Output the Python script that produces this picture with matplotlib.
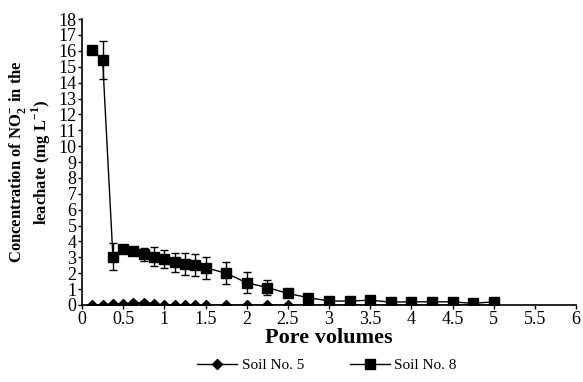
import matplotlib
matplotlib.use("Agg")
import matplotlib.pyplot as plt
from matplotlib.lines import Line2D
import numpy as np

plt.rcParams['font.family'] = ['Liberation Serif', 'DejaVu Serif']
plt.rcParams['mathtext.fontset'] = 'custom'
plt.rcParams['mathtext.rm'] = 'Liberation Serif'
plt.rcParams['mathtext.bf'] = 'Liberation Serif:bold'

pore_volumes = [0.125, 0.25, 0.375, 0.5, 0.625, 0.75, 0.875, 1.0, 1.125, 1.25, 1.375, 1.5,
                1.75, 2.0, 2.25, 2.5, 2.75, 3.0, 3.25, 3.5, 3.75, 4.0, 4.25, 4.5, 4.75, 5.0]
soil8 = [16.05, 15.45, 3.05, 3.55, 3.4, 3.2, 3.05, 2.9, 2.7, 2.6, 2.5, 2.35,
         2.0, 1.4, 1.1, 0.73, 0.46, 0.25, 0.25, 0.3, 0.18, 0.2, 0.2, 0.2, 0.1, 0.2]
soil8_err = [0.0, 1.2, 0.85, 0.1, 0.15, 0.4, 0.6, 0.57, 0.6, 0.7, 0.7, 0.7,
             0.7, 0.65, 0.5, 0.05, 0.05, 0.05, 0.05, 0.05, 0.05, 0.05, 0.05, 0.05, 0.05, 0.05]
soil5 = [0.0, 0.0, 0.08, 0.08, 0.12, 0.15, 0.08, 0.0, 0.0, 0.0, 0.0, 0.0,
         0.0, 0.0, 0.0, 0.0, 0.0, 0.0, 0.0, 0.0, 0.0, 0.0, 0.0, 0.0, 0.0, 0.0]
soil5_err = [0.0, 0.0, 0.05, 0.05, 0.1, 0.1, 0.05, 0.0, 0.0, 0.0, 0.0, 0.0,
             0.0, 0.0, 0.0, 0.0, 0.0, 0.0, 0.0, 0.0, 0.0, 0.0, 0.0, 0.0, 0.0, 0.0]
x_ticks = [0, 0.5, 1, 1.5, 2, 2.5, 3, 3.5, 4, 4.5, 5, 5.5, 6]
x_tick_labels = ['0', '0.5', '1', '1.5', '2', '2.5', '3', '3.5', '4', '4.5', '5', '5.5', '6']
y_ticks = list(range(0, 19))

fig = plt.figure(figsize=(5.83, 3.82), dpi=100)
ax = fig.add_axes([0.1407, 0.2016, 0.8473, 0.7484])

ax.errorbar(pore_volumes, soil5, yerr=soil5_err, color='black', marker='D', markersize=5,
            linewidth=1.0, capsize=3, elinewidth=1.0)
ax.errorbar(pore_volumes, soil8, yerr=soil8_err, color='black', marker='s', markersize=7,
            linewidth=1.0, capsize=3, elinewidth=1.0)

ax.set_xlim(0, 6)
ax.set_ylim(0, 18)
ax.set_xticks(x_ticks)
ax.set_xticklabels(x_tick_labels)
ax.set_yticks(y_ticks)
ax.tick_params(axis='both', labelsize=13, direction='out', length=3, width=1, pad=1)
for s in ['top', 'right']:
    ax.spines[s].set_visible(False)
for s in ['left', 'bottom']:
    ax.spines[s].set_linewidth(1.2)

ax.set_xlabel('Pore volumes', fontsize=16, fontweight='bold', labelpad=0)
ax.set_ylabel('Concentration of NO$_{\\mathbf{2}}^{\\mathbf{-}}$ in the\nleachate (mg L$^{\\mathbf{-1}}$)',
              fontsize=12, fontweight='bold', labelpad=4, linespacing=1.1)

handles = [Line2D([], [], color='black', marker='D', markersize=5, linewidth=1.0),
           Line2D([], [], color='black', marker='s', markersize=7, linewidth=1.0)]
ax.legend(handles, ['Soil No. 5', 'Soil No. 8'], loc='center', bbox_to_anchor=(0.496, -0.21),
          ncol=2, frameon=False, fontsize=11, handlelength=2.6, handletextpad=0.3,
          columnspacing=3.0, borderaxespad=0, borderpad=0)

fig.savefig('out.png', dpi=100)
